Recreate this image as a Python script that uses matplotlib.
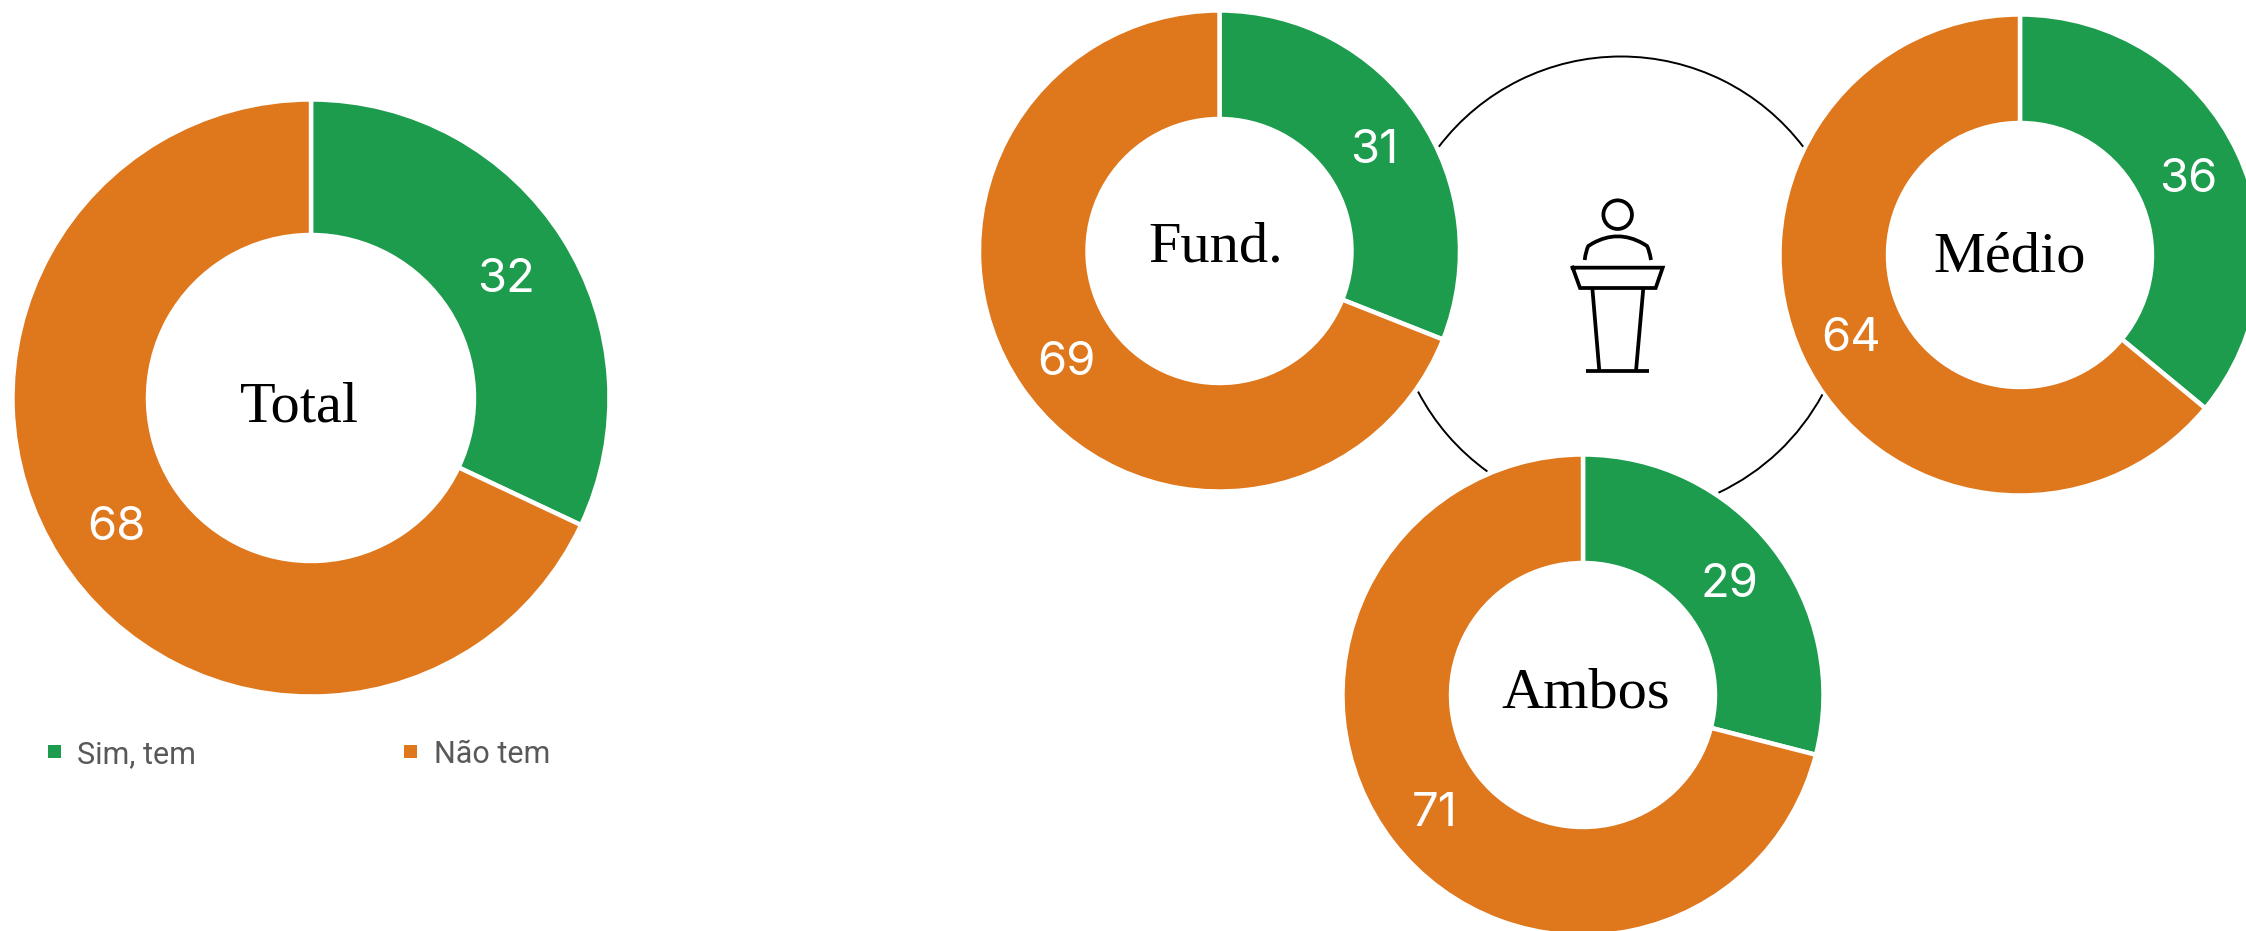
import matplotlib.pyplot as plt
from matplotlib.patches import Arc, Circle, PathPatch, Rectangle
from matplotlib.path import Path

W, H = 2246, 931

categories = ['Sim, tem', 'Não tem']
colors = ['#1D9C4E', '#DF771D']

total_values = [32, 68]
fund_values = [31, 69]
medio_values = [36, 64]
ambos_values = [29, 71]

names = ['Total', 'Fund.', 'Médio', 'Ambos']

fig = plt.figure(figsize=(W / 100, H / 100), dpi=100, facecolor='white')


def donut(values, cx, cy, r_out, r_in):
    # eixo em pixels da figura, do tamanho exato do circulo
    ax = fig.add_axes([(cx - r_out) / W, 1 - (cy + r_out) / H, 2 * r_out / W, 2 * r_out / H])
    wedges, _ = ax.pie(values, colors=colors, startangle=90, counterclock=False, radius=1,
                       wedgeprops=dict(width=1 - r_in / r_out, edgecolor='white', linewidth=3.2))
    for w in wedges:
        w.set_clip_on(False)
    ax.set_xlim(-1, 1)
    ax.set_ylim(-1, 1)
    return ax


donut(total_values, 311, 398, 298.5, 163)
donut(fund_values, 1219.5, 251, 240.5, 132)
donut(medio_values, 2020, 255, 240.5, 132)
donut(ambos_values, 1583, 695, 240.5, 132)

# camada de cima, em pixels
top = fig.add_axes([0, 0, 1, 1], zorder=5)
top.set_xlim(0, W)
top.set_ylim(H, 0)
top.axis('off')

num_font = dict(family='Inter', fontsize=34, color='white', ha='center', va='center')
top.text(506, 280, str(total_values[0]), **num_font)
top.text(116, 528, str(total_values[1]), **num_font)
top.text(1374, 151, str(fund_values[0]), **num_font)
top.text(1066, 363, str(fund_values[1]), **num_font)
top.text(2188, 180, str(medio_values[0]), **num_font)
top.text(1851, 339, str(medio_values[1]), **num_font)
top.text(1729, 585, str(ambos_values[0]), **num_font)
top.text(1435, 814, str(ambos_values[1]), **num_font)

name_font = dict(family='Liberation Serif', fontsize=42, color='black', ha='center', va='center')
top.text(299, 407, names[0], **name_font)
top.text(1216, 247, names[1], **name_font)
top.text(2010, 257, names[2], **name_font)
top.text(1586, 694, names[3], **name_font)

# legenda
top.add_patch(Rectangle((47.5, 745), 13, 12.5, color=colors[0], lw=0))
top.add_patch(Rectangle((404, 745), 13, 12.5, color=colors[1], lw=0))
leg_font = dict(family='Roboto', fontsize=22, color='#595959', ha='left', va='baseline')
top.text(77, 763, categories[0], **leg_font)
top.text(434, 763, categories[1], **leg_font)

# arcos em volta do icone
arc_cx, arc_cy, arc_d = 1621, 285.5, 458
for a, b in [(-142.7, -37.3), (28.4, 64.8), (125.7, 152.4)]:
    top.add_patch(Arc((arc_cx, arc_cy), arc_d, arc_d, theta1=a, theta2=b, color='black', lw=1.4))


# icone do professor, coordenadas do recorte
def ix(x):
    return 1480 + x / 3


def iy(y):
    return 170 + y / 3


icon = dict(color='black', lw=2.7, solid_capstyle='butt')
top.add_patch(Circle((ix(413), iy(134)), 14.3, fill=False, edgecolor='black', lw=2.7))
top.add_patch(PathPatch(Path(
    [(ix(314), iy(270)), (ix(318), iy(240)), (ix(325), iy(228)), (ix(338), iy(220)),
     (ix(413), iy(178)), (ix(488), iy(220)), (ix(501), iy(228)), (ix(508), iy(240)), (ix(513), iy(270))],
    [Path.MOVETO, Path.CURVE3, Path.CURVE3, Path.LINETO, Path.CURVE3, Path.CURVE3, Path.LINETO,
     Path.CURVE3, Path.CURVE3]), fill=False, edgecolor='black', lw=2.7))
top.plot([ix(278), ix(548), ix(527), ix(300), ix(278)], [iy(293), iy(293), iy(354), iy(354), iy(293)],
         color='black', lw=2.7, solid_joinstyle='miter')
top.plot([ix(337), ix(358)], [iy(354), iy(603)], **icon)
top.plot([ix(490), ix(468)], [iy(354), iy(603)], **icon)
top.plot([ix(318), ix(508)], [iy(603), iy(603)], **icon)

fig.savefig('out.png', dpi=100)
